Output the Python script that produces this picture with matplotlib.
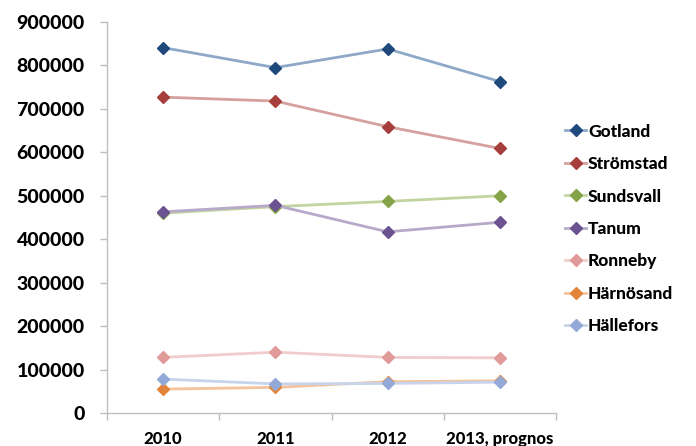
import matplotlib.pyplot as plt
import numpy as np

# Data
categories = ["2010", "2011", "2012", "2013, prognos"]
gotland = [841000, 795000, 838000, 763000]
stromstad = [727000, 718000, 659000, 609000]
sundsvall = [460000, 475000, 487000, 500000]
tanum = [463000, 478000, 417000, 439000]
ronneby = [128000, 140000, 128000, 127000]
harnosand = [55000, 59000, 72000, 74000]
hallefors = [78000, 67000, 68000, 71000]

series = [
    ("Gotland", gotland, "#1F497D", "#8EA8C8"),
    ("Strömstad", stromstad, "#A63F3C", "#D5A09E"),
    ("Sundsvall", sundsvall, "#85A447", "#C2D5A0"),
    ("Tanum", tanum, "#6B5290", "#B6A9C9"),
    ("Ronneby", ronneby, "#DF9A99", "#F0CDCC"),
    ("Härnösand", harnosand, "#E2853A", "#F2C39C"),
    ("Hällefors", hallefors, "#93AAD8", "#C8D4EC"),
]

plt.rcParams['font.family'] = ['Lato', 'DejaVu Sans']
W = 'black'

fig = plt.figure(figsize=(6.96, 4.46), dpi=100)
ax = fig.add_axes([107 / 696, 33 / 446, 449 / 696, 391 / 446])

x = np.arange(len(categories))
for name, vals, mcol, lcol in series:
    ax.plot(x, vals, color=lcol, lw=2.0, marker='D', markersize=6.5,
            markerfacecolor=mcol, markeredgecolor=mcol, label=name)

ax.set_xlim(-0.5, len(categories) - 0.5)
ax.set_ylim(0, 900000)
ax.set_yticks(np.arange(0, 900001, 100000))
ax.set_yticklabels([str(v) for v in range(0, 900001, 100000)], fontsize=14, fontweight=W)

ax.set_xticks(x)
ax.set_xticklabels(categories, fontsize=12, fontweight=W)
ax.set_xticks(np.arange(-0.5, len(categories), 1.0), minor=True)
ax.tick_params(axis='x', which='major', length=0, pad=13)
ax.tick_params(axis='x', which='minor', length=5, color='#BFBFBF', width=1)
ax.tick_params(axis='y', length=5, color='#BFBFBF', width=1, pad=11)

for s in ['top', 'right']:
    ax.spines[s].set_visible(False)
for s in ['left', 'bottom']:
    ax.spines[s].set_color('#BFBFBF')
    ax.spines[s].set_linewidth(1)

handles, labels = ax.get_legend_handles_labels()
leg = fig.legend(handles, labels, loc='center left', bbox_to_anchor=(562 / 696, 1 - 229 / 446),
                 frameon=False, handlelength=1.2, handletextpad=0.1, labelspacing=0.95,
                 borderaxespad=0, borderpad=0.2, prop={'size': 12.5, 'weight': W})

fig.savefig("out.png", dpi=100)
